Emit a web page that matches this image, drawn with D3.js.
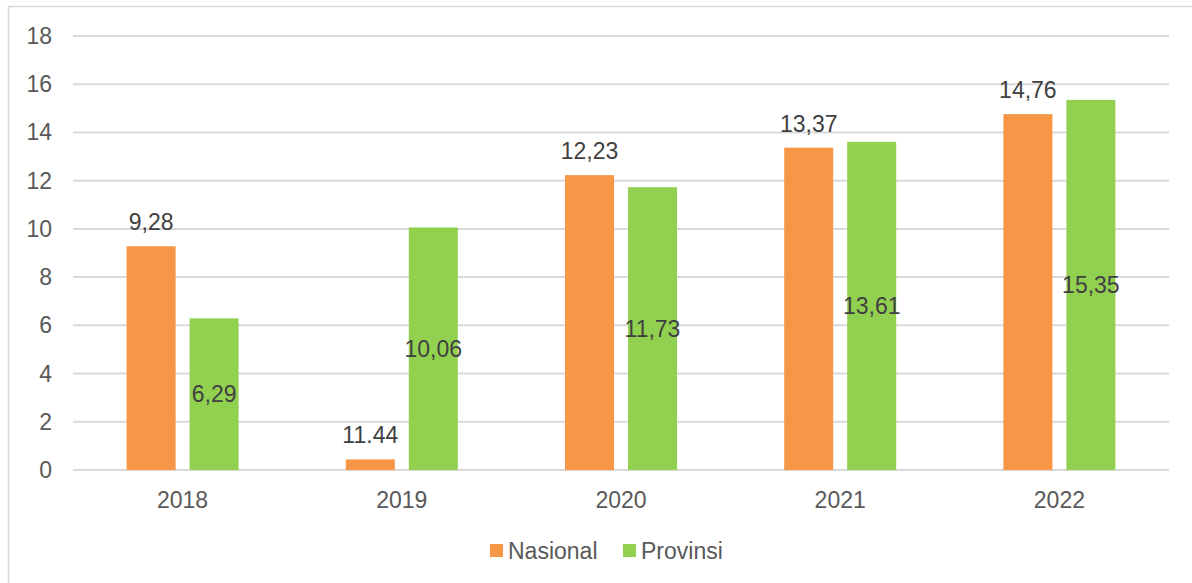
<!DOCTYPE html>
<html><head><meta charset="utf-8">
<script src="https://cdn.jsdelivr.net/npm/d3@7"></script>
<style>body{margin:0;background:#fff}svg{display:block}</style>
</head><body>
<svg id="c" width="1192" height="583"></svg>
<script>
const categories = ["2018","2019","2020","2021","2022"];
const seriesNames = ["Nasional","Provinsi"];
const nasional = [9.28, 0.44, 12.23, 13.37, 14.76];
const provinsi = [6.29, 10.06, 11.73, 13.61, 15.35];
const nasionalLabels = ["9,28","11.44","12,23","13,37","14,76"];
const provinsiLabels = ["6,29","10,06","11,73","13,61","15,35"];
const yTicks = [0,2,4,6,8,10,12,14,16,18];
const colors = ["#F79646","#92D050"];

const svg = d3.select("#c");
const font = "Arial, 'Liberation Sans', sans-serif";
const L = 73, R = 1169, T = 36, B = 470;

// border (left and top)
svg.append("path").attr("d", `M8.5,583 L8.5,6.5 L1192,6.5`).attr("fill","none").attr("stroke","#d9d9d9").attr("stroke-width",1.5);

const x = d3.scaleBand().domain(categories).range([L,R]).padding(0);
const y = d3.scaleLinear().domain([0,18]).range([B,T]);

// gridlines
svg.append("g").selectAll("line").data(yTicks).join("line")
  .attr("x1",L).attr("x2",R).attr("y1",d=>y(d)).attr("y2",d=>y(d))
  .attr("stroke","#d9d9d9").attr("stroke-width",2);

// y tick labels
svg.append("g").selectAll("text").data(yTicks).join("text")
  .attr("x",52).attr("y",d=>y(d)).attr("dy","0.35em").attr("text-anchor","end")
  .attr("font-family",font).attr("font-size",23).attr("fill","#595959").text(d=>d);

// x labels
svg.append("g").selectAll("text").data(categories).join("text")
  .attr("x",d=>x(d)+x.bandwidth()/2).attr("y",500).attr("dy","0.35em").attr("text-anchor","middle")
  .attr("font-family",font).attr("font-size",23).attr("fill","#595959").text(d=>d);

const bw = 49, gap = 14;
const sub = d3.scaleOrdinal().domain([0,1]).range([-(gap/2+bw), gap/2]);

const series = [nasional, provinsi];
const labels = [nasionalLabels, provinsiLabels];
series.forEach((vals, si) => {
  const g = svg.append("g");
  g.selectAll("rect").data(vals).join("rect")
    .attr("x",(d,i)=>x(categories[i])+x.bandwidth()/2+sub(si))
    .attr("width",bw)
    .attr("y",d=>y(d)).attr("height",d=>y(0)-y(d))
    .attr("fill",colors[si]);
  g.selectAll("text").data(vals).join("text")
    .attr("x",(d,i)=>x(categories[i])+x.bandwidth()/2+sub(si)+bw/2)
    .attr("y",d=> si===0 ? y(d)-24 : (y(d)+y(0))/2)
    .attr("dy","0.35em").attr("text-anchor","middle")
    .attr("font-family",font).attr("font-size",23).attr("fill","#404040")
    .text((d,i)=>labels[si][i]);
});

// legend
const leg = svg.append("g");
const legX = [490, 623];
seriesNames.forEach((n,i)=>{
  leg.append("rect").attr("x",legX[i]).attr("y",544).attr("width",13).attr("height",13).attr("fill",colors[i]);
  leg.append("text").attr("x",legX[i]+18).attr("y",550.5).attr("dy","0.35em")
    .attr("font-family",font).attr("font-size",23).attr("fill","#595959").text(n);
});
</script>
</body></html>
